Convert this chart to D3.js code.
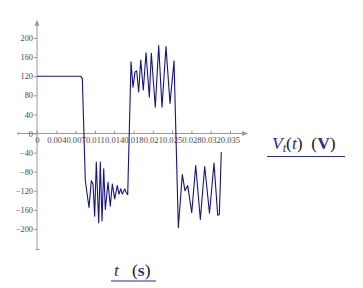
<!DOCTYPE html>
<html>
<head>
<meta charset="utf-8">
<script src="https://cdn.jsdelivr.net/npm/d3@7"></script>
<style>
  html, body { margin: 0; padding: 0; background: #fff; }
  svg { display: block; }
</style>
</head>
<body>
<svg id="chart" width="363" height="288"></svg>
<script>
// data: time (s) and voltage (V)
var times = [0, 0.00793, 0.00822, 0.00876, 0.00943, 0.00985, 0.01016, 0.01046, 0.01075,
  0.01119, 0.01148, 0.01179, 0.0121, 0.01239, 0.01288, 0.01329, 0.01366, 0.01409,
  0.01456, 0.01487, 0.01518, 0.01547, 0.01591, 0.0162, 0.01645, 0.01705, 0.01741,
  0.01777, 0.01808, 0.01844, 0.01881, 0.01928, 0.01977, 0.02037, 0.02073, 0.02145,
  0.02207, 0.02267, 0.02339, 0.02412, 0.02485, 0.02563, 0.02635, 0.02684, 0.02733,
  0.02806, 0.02878, 0.02962, 0.03041, 0.03128, 0.0321, 0.03277, 0.03306, 0.03342]
var volts = [120, 120, 115, -99, -155, -99, -106, -173, -60,
  -187, -60, -183, -74, -159, -102, -152, -106, -137,
  -109, -127, -116, -127, -116, -124, -128, 150, 97,
  129, 131, 87, 154, 91, 169, 76, 168, 55,
  184, 55, 182, 63, 152, -197, -86, -120, -109,
  -166, -67, -180, -69, -167, -62, -171, -170, -39]

// tick values and their labels
var xTicks = [0, 0.0035, 0.007, 0.0105, 0.014, 0.0175, 0.021, 0.0245, 0.028, 0.0315, 0.035]
var xTickLabels = ['0', '0.004', '0.007', '0.011', '0.014', '0.018', '0.021', '0.025', '0.028', '0.032', '0.035']
var yTicks = [-200, -160, -120, -80, -40, 0, 40, 80, 120, 160, 200]
var yTickLabels = ['\u2212200', '\u2212160', '\u2212120', '\u221280', '\u221240', '0', '40', '80', '120', '160', '200']

// axis extents (data units)
var xExtent = [-0.00345, 0.0383]
var yExtent = [-243, 238]

// colors
var colorAxis = '#9a9a9a'
var colorTickText = '#4a4a4a'
var colorTrace = '#14148c'
var colorLabel = '#2a2a9c'
var colorParen = '#1a1a1a'
var serif = '"Liberation Serif", "Times New Roman", serif'

var svg = d3.select('#chart')
var x = d3.scaleLinear().domain([0, 0.035]).range([37, 230])
var y = d3.scaleLinear().domain([0, 200]).range([133.5, 38])

var axes = svg.append('g')

// axis lines
axes.append('line')
  .attr('x1', x(xExtent[0])).attr('x2', x(xExtent[1]) - 4)
  .attr('y1', y(0)).attr('y2', y(0))
  .attr('stroke', colorAxis).attr('stroke-width', 1)
axes.append('line')
  .attr('x1', x(0)).attr('x2', x(0))
  .attr('y1', y(yExtent[0])).attr('y2', y(yExtent[1]) + 4)
  .attr('stroke', colorAxis).attr('stroke-width', 1)

// arrow heads
var xe = x(xExtent[1]), ye = y(yExtent[1])
axes.append('path')
  .attr('d', 'M' + xe + ',' + y(0) + 'L' + (xe - 6) + ',' + (y(0) - 2.5) + 'L' + (xe - 6) + ',' + (y(0) + 2.5) + 'Z')
  .attr('fill', colorAxis)
axes.append('path')
  .attr('d', 'M' + x(0) + ',' + ye + 'L' + (x(0) - 2.5) + ',' + (ye + 6) + 'L' + (x(0) + 2.5) + ',' + (ye + 6) + 'Z')
  .attr('fill', colorAxis)

// end caps
axes.append('line')
  .attr('x1', x(0) - 1.5).attr('x2', x(0) + 2.5)
  .attr('y1', y(yExtent[0])).attr('y2', y(yExtent[0]))
  .attr('stroke', colorAxis)
axes.append('line')
  .attr('x1', x(xExtent[0])).attr('x2', x(xExtent[0]))
  .attr('y1', y(0) - 1.5).attr('y2', y(0) + 1.5)
  .attr('stroke', colorAxis)

// x axis ticks
var xAxis = d3.axisBottom(x)
  .tickValues(xTicks)
  .tickFormat(function(d, i) { return xTickLabels[i] })
  .tickSizeInner(-3).tickSizeOuter(0).tickPadding(3.5)
var gx = axes.append('g')
  .attr('transform', 'translate(0,' + y(0) + ')')
  .call(xAxis)
gx.attr('font-family', null).attr('font-size', null)
gx.select('.domain').remove()
gx.selectAll('line').attr('stroke', colorAxis)
gx.selectAll('text')
  .attr('fill', colorTickText)
  .style('font-family', serif)
  .style('font-size', '8.6px')

// y axis ticks
var yAxis = d3.axisLeft(y)
  .tickValues(yTicks)
  .tickFormat(function(d, i) { return yTickLabels[i] })
  .tickSizeInner(3).tickSizeOuter(0).tickPadding(1)
var gy = axes.append('g')
  .attr('transform', 'translate(' + x(0) + ',0)')
  .call(yAxis)
gy.attr('font-family', null).attr('font-size', null)
gy.select('.domain').remove()
gy.selectAll('line').attr('stroke', colorAxis)
gy.selectAll('text')
  .attr('fill', colorTickText)
  .style('font-family', serif)
  .style('font-size', '8.3px')

// trace
var line = d3.line()
  .x(function(d, i) { return x(times[i]) })
  .y(function(d) { return y(d) })
svg.append('path')
  .datum(volts)
  .attr('d', line)
  .attr('fill', 'none')
  .attr('stroke', colorTrace)
  .attr('stroke-width', 1.1)
  .attr('stroke-linejoin', 'round')

// y label: V_t(t) (V)
var yl = svg.append('text')
  .attr('x', 272).attr('y', 148.5)
  .style('font-family', serif)
  .style('font-size', '17.5px')
yl.append('tspan').attr('fill', colorLabel).style('font-style', 'italic').text('V')
yl.append('tspan').attr('fill', colorLabel).style('font-style', 'italic')
  .style('font-size', '12px').attr('dy', 3.5).text('t')
yl.append('tspan').attr('fill', colorParen).attr('dy', -3.5).text('(')
yl.append('tspan').attr('fill', colorLabel).style('font-style', 'italic').text('t')
yl.append('tspan').attr('fill', colorParen).text(')\u00a0\u00a0(')
yl.append('tspan').attr('fill', colorLabel).style('font-weight', 'bold').text('V')
yl.append('tspan').attr('fill', colorParen).text(')')
svg.append('line')
  .attr('x1', 267).attr('x2', 345).attr('y1', 156.5).attr('y2', 156.5)
  .attr('stroke', colorLabel).attr('stroke-width', 1.2)

// x label: t (s)
var xl = svg.append('text')
  .attr('x', 114).attr('y', 276)
  .style('font-family', serif)
  .style('font-size', '17.5px')
xl.append('tspan').attr('fill', colorLabel).style('font-style', 'italic').text('t')
xl.append('tspan').attr('fill', colorParen).text('\u00a0\u00a0\u00a0(')
xl.append('tspan').attr('fill', colorLabel).style('font-weight', 'bold').text('s')
xl.append('tspan').attr('fill', colorParen).text(')')
svg.append('line')
  .attr('x1', 111).attr('x2', 156).attr('y1', 281).attr('y2', 281)
  .attr('stroke', colorLabel).attr('stroke-width', 1.2)
</script>
</body>
</html>
